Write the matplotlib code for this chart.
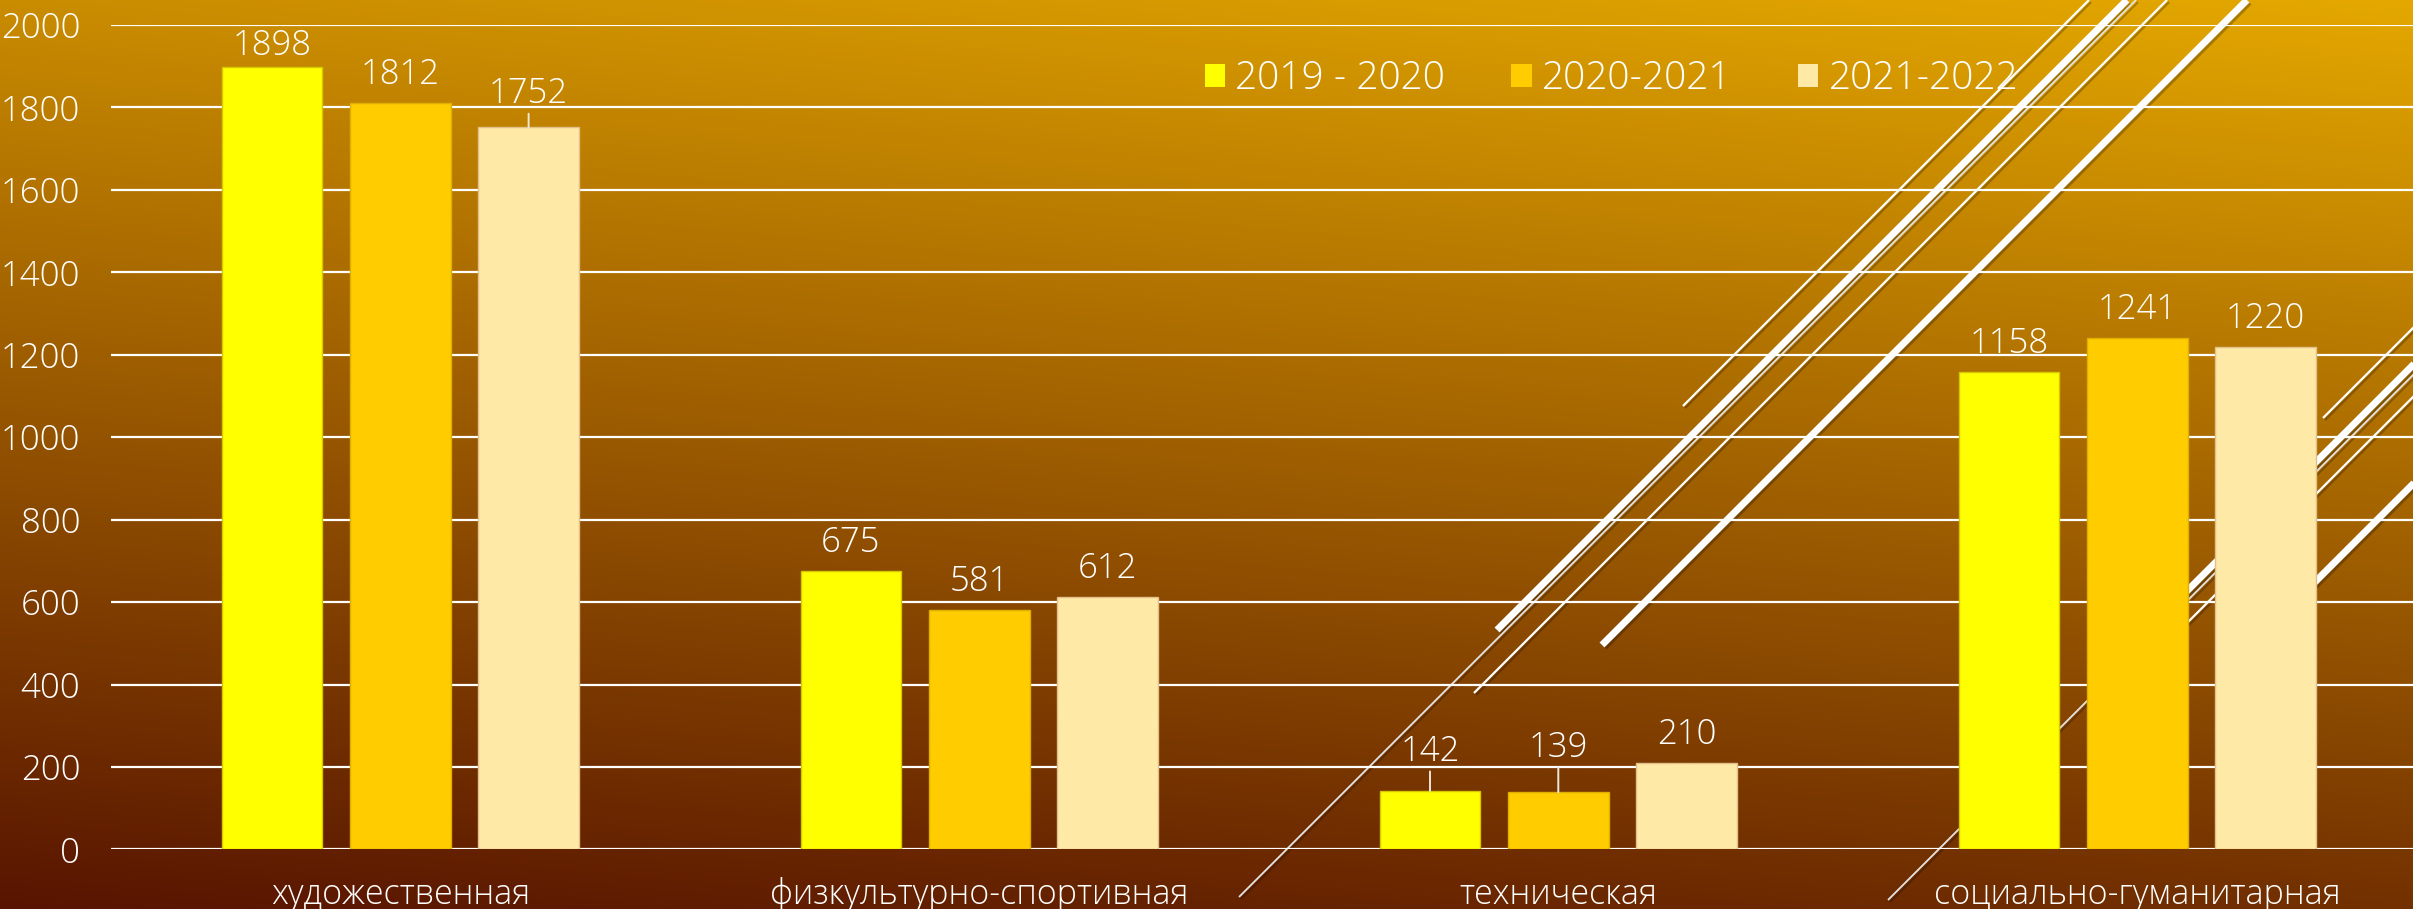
import numpy as np
import matplotlib
matplotlib.use('Agg')
import matplotlib.pyplot as plt
from matplotlib.patches import Patch
import matplotlib.patheffects as pe

# ---------------- data ----------------
categories = ['художественная', 'физкультурно-спортивная', 'техническая', 'социально-гуманитарная']
series_names = ['2019 - 2020', '2020-2021', '2021-2022']
values_2019_2020 = [1898, 675, 142, 1158]
values_2020_2021 = [1812, 581, 139, 1241]
values_2021_2022 = [1752, 612, 210, 1220]
y_ticks = [0, 200, 400, 600, 800, 1000, 1200, 1400, 1600, 1800, 2000]

# ---------------- style ----------------
plt.rcParams['font.family'] = ['Open Sans', 'Liberation Sans', 'DejaVu Sans']
plt.rcParams['font.weight'] = 'light'

series_values = [values_2019_2020, values_2020_2021, values_2021_2022]
bar_colors = ['#FFFF00', '#FFCC00', '#FFE9A6']
edge_colors = ['#D6C800', '#E0B000', '#E2C08A']
# label baseline gap above bar top (pixels), and whether a leader line is drawn
label_gap = [[12, 19, 24], [19, 19, 19], [30, 35, 19], [19, 19, 19]]
leader = [[False, False, True], [False, False, False], [True, True, False], [False, False, False]]

W, H = 2413, 909
fig = plt.figure(figsize=(W / 100, H / 100), dpi=100)

# background gradient + decorative lines
bg = fig.add_axes([0, 0, 1, 1], zorder=-2)
bg.set_xlim(0, W)
bg.set_ylim(H, 0)
bg.axis('off')
yy, xx = np.mgrid[0:1:300j, 0:1:600j]
t = 0.81 * (1 - yy) + 0.19 * xx
c0 = np.array([88, 20, 0]) / 255
c1 = np.array([228, 168, 0]) / 255
img = c0 + t[..., None] * (c1 - c0)
bg.imshow(img, extent=[0, W, H, 0], aspect='auto', interpolation='bilinear')

decor = [
    # (x1, y1, x2, y2, linewidth, color)
    (1683, 406, 2089, 0, 1.6, 'white'),
    (1497, 630, 2127, 0, 5.0, 'white'),
    (1239, 897, 2136, 0, 1.3, '#E4E4E4'),
    (1474, 693, 2167, 0, 1.6, 'white'),
    (1602, 645, 2247, 0, 5.0, 'white'),
    (2323, 418, 2500, 241, 1.6, 'white'),
    (2136, 642, 2500, 278, 5.0, 'white'),
    (1888, 900, 2500, 288, 1.3, '#E4E4E4'),
    (2113, 697, 2500, 310, 1.6, 'white'),
    (2240, 657, 2500, 397, 5.0, 'white'),
]
for x1, y1, x2, y2, lw, col in decor:
    effects = [pe.SimpleLineShadow(offset=(1.5, -1.5), shadow_color='black', alpha=0.25), pe.Normal()]
    bg.plot([x1, x2], [y1, y2], color=col, lw=lw, solid_capstyle='butt', path_effects=effects)

# main chart
ax = fig.add_axes([0.04592, 0.06546, 0.95980, 0.90704])
ax.set_facecolor('none')
for s in ax.spines.values():
    s.set_visible(False)

x = np.arange(len(categories))
offset = 0.2216
width = 0.1744
for j, vals in enumerate(series_values):
    xs = x + (j - 1) * offset
    ax.bar(xs, vals, width=width, color=bar_colors[j], edgecolor=edge_colors[j],
           linewidth=1.0, label=series_names[j], zorder=3)
    for i, v in enumerate(vals):
        g = label_gap[i][j]
        ax.annotate(str(v), xy=(xs[i], v), xytext=(0, g), textcoords='offset pixels',
                    ha='center', va='baseline', color='white', fontsize=25, zorder=5)
        if leader[i][j]:
            ax.annotate('', xy=(xs[i], v), xytext=(0, g - 10.5), textcoords='offset pixels',
                        arrowprops=dict(arrowstyle='-', color='#EFE6DA', lw=1.4,
                                        shrinkA=0, shrinkB=0), zorder=4)

ax.set_xlim(-0.5, len(categories) - 0.5)
ax.set_ylim(0, 2000)
ax.set_yticks(y_ticks)
ax.set_yticklabels([str(v) for v in y_ticks])
ax.set_xticks(x)
ax.set_xticklabels(categories)
ax.yaxis.grid(True, color='white', lw=1.6, zorder=1)
ax.set_axisbelow(True)
ax.tick_params(axis='y', length=0, pad=22, labelsize=25, labelcolor='white')
ax.tick_params(axis='x', length=0, pad=20, labelsize=24.5, labelcolor='white')

handles = [Patch(facecolor=bar_colors[j], edgecolor='none') for j in range(3)]
fig.legend(handles, series_names, loc='center left', bbox_to_anchor=(1204.5 / W, 1 - 79 / H),
           bbox_transform=fig.transFigure, ncol=3, frameon=False, fontsize=28,
           labelcolor='white', handlelength=0.53, handleheight=0.53, handletextpad=0.26,
           columnspacing=1.7, borderpad=0, borderaxespad=0)

fig.savefig('out.png', dpi=100)
